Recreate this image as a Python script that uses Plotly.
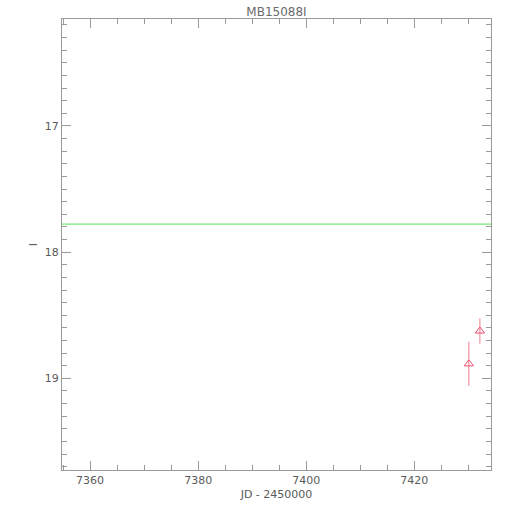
import plotly.graph_objects as go

title = "MB15088I"
jd = [7430.1, 7432.15]
mag = [18.885, 18.625]
mag_err = [0.175, 0.10]
baseline_mag = 17.778
x_range = [7354.8, 7434.2]
y_range = [19.726, 16.153]

axis_col = "#9a9a9a"
text_col = "#5a5a5a"

fig = go.Figure()
fig.add_trace(go.Scatter(
    x=x_range, y=[baseline_mag, baseline_mag], mode="lines",
    line=dict(color="#78e878", width=1.2), showlegend=False,
    hoverinfo="skip"))
fig.add_trace(go.Scatter(
    x=jd, y=mag, mode="markers",
    marker=dict(symbol="triangle-up-open", size=8, color="#f0506e", line=dict(width=1)),
    error_y=dict(type="data", array=mag_err, color="#f07a8c", thickness=1, width=0),
    showlegend=False))

fig.update_layout(
    width=510, height=510,
    margin=dict(l=62, r=19, t=19, b=40),
    paper_bgcolor="white", plot_bgcolor="white",
    title=dict(text=title, xref="paper", x=0.5, xanchor="center", y=0.977, yanchor="middle",
               font=dict(family="DejaVu Sans", size=12, color="#6a6a6a")),
    font=dict(family="DejaVu Sans", size=11, color=text_col),
)
fig.update_xaxes(
    range=x_range, showgrid=False, zeroline=False,
    showline=True, linecolor=axis_col, linewidth=1, mirror="ticks",
    ticks="inside", ticklen=9, tickcolor=axis_col, tickwidth=1,
    tick0=7360, dtick=20, tickformat="d",
    minor=dict(ticks="inside", ticklen=5, dtick=5, tick0=7360, tickcolor=axis_col, showgrid=False),
    title=dict(text="JD - 2450000", font=dict(size=11, color=text_col), standoff=4),
    tickfont=dict(size=11, color=text_col),
)
fig.update_yaxes(
    range=y_range, showgrid=False, zeroline=False,
    showline=True, linecolor=axis_col, linewidth=1, mirror="ticks",
    ticks="inside", ticklen=9, tickcolor=axis_col, tickwidth=1,
    tick0=17, dtick=1,
    minor=dict(ticks="inside", ticklen=5, dtick=0.1, tick0=17, tickcolor=axis_col, showgrid=False),
    title=dict(text="I", font=dict(size=11, color=text_col), standoff=4),
    tickfont=dict(size=11, color=text_col),
)

fig.write_html("out.html", config={"displayModeBar": False},
               post_script="document.body.style.margin='0';document.body.style.overflow='hidden';")
